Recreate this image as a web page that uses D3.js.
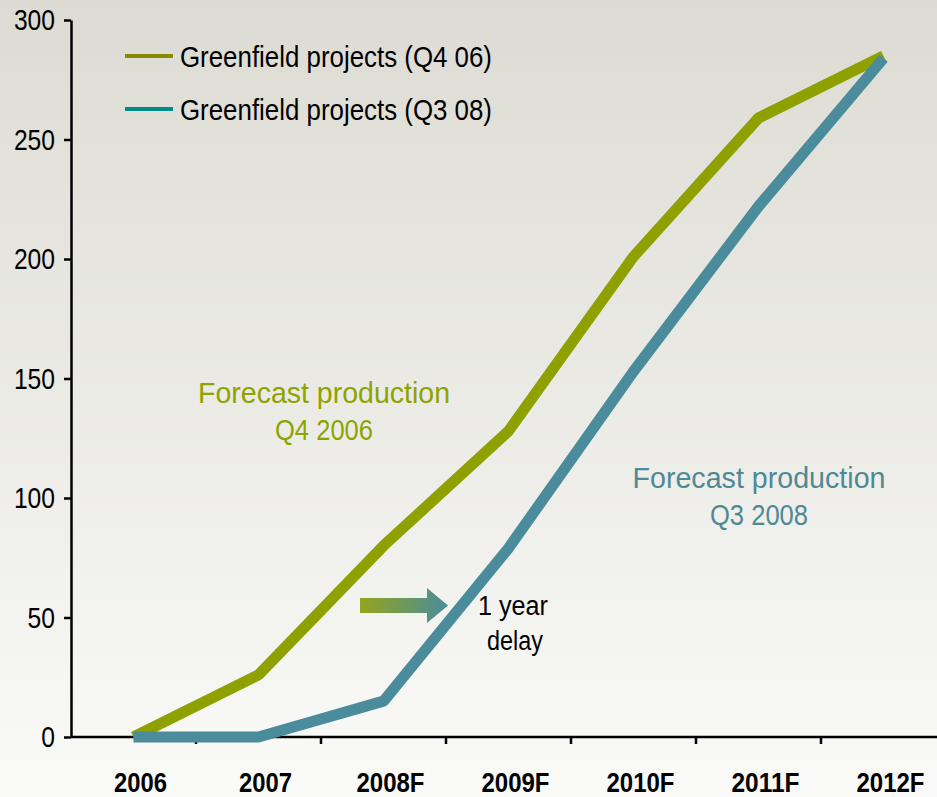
<!DOCTYPE html>
<html>
<head>
<meta charset="utf-8">
<script src="https://cdn.jsdelivr.net/npm/d3@7"></script>
<style>
  body { margin: 0; background: #fff; }
  text { font-family: "Liberation Sans", Arial, sans-serif; }
</style>
</head>
<body>
<div id="chart"></div>
<script>
const years = ["2006", "2007", "2008F", "2009F", "2010F", "2011F", "2012F"];
const q4_06 = [0, 26, 80, 128, 201, 259, 285];
const q3_08 = [0, 0, 15, 79, 153, 222, 284];
const yTicks = [0, 50, 100, 150, 200, 250, 300];
const legendNames = ["Greenfield projects (Q4 06)", "Greenfield projects (Q3 08)"];

const W = 937, H = 797;
const green = "#8fa100", blue = "#4a8c9b";

// the original uses a narrow typeface: squeeze text to its measured width
function narrow(sel, w) {
  sel.attr("textLength", w).attr("lengthAdjust", "spacingAndGlyphs");
}

const svg = d3.select("#chart").append("svg")
    .attr("width", W)
    .attr("height", H);

// background gradient
const defs = svg.append("defs");
const bg = defs.append("linearGradient").attr("id", "bg")
    .attr("x1", 0).attr("y1", 0).attr("x2", 0).attr("y2", 1);
bg.append("stop").attr("offset", "0%").attr("stop-color", "#dcdbd3");
bg.append("stop").attr("offset", "100%").attr("stop-color", "#fafaf8");
svg.append("rect").attr("width", W).attr("height", H).attr("fill", "url(#bg)");

const x = d3.scaleBand().domain(years).range([71, 946]).padding(0);
const y = d3.scaleLinear().domain([0, 300]).range([737, 20]);
const cx = d => x(d) + x.bandwidth() / 2;

// y axis
const yAxis = svg.append("g")
    .attr("transform", "translate(71,0)")
    .call(d3.axisLeft(y).tickValues(yTicks).tickSize(7).tickSizeOuter(0).tickPadding(9));
yAxis.select(".domain").attr("stroke", "#000").attr("stroke-width", 2.5);
yAxis.selectAll(".tick line").attr("stroke", "#000").attr("stroke-width", 2.5);
yAxis.selectAll(".tick text")
    .attr("fill", "#000")
    .style("font-family", "'Liberation Sans', Arial, sans-serif")
    .style("font-size", "30px")
    .each(function(d) { narrow(d3.select(this), String(d).length * 13.7); });

// x axis
svg.append("line")
    .attr("x1", 71).attr("x2", W)
    .attr("y1", y(0)).attr("y2", y(0))
    .attr("stroke", "#000").attr("stroke-width", 2.5);
svg.selectAll(".xtick").data(years.slice(1)).enter().append("line")
    .attr("class", "xtick")
    .attr("x1", d => x(d)).attr("x2", d => x(d))
    .attr("y1", y(0)).attr("y2", y(0) + 7)
    .attr("stroke", "#000").attr("stroke-width", 2.5);
svg.selectAll(".xlab").data(years).enter().append("text")
    .attr("class", "xlab")
    .attr("x", d => cx(d) + 7)
    .attr("y", 792)
    .attr("text-anchor", "middle")
    .style("font-size", "28px")
    .style("font-weight", "bold")
    .text(d => d)
    .each(function(d) { narrow(d3.select(this), d.length === 4 ? 53 : 68); });

// lines
const line = d3.line()
    .x((d, i) => cx(years[i]))
    .y(d => y(d));

svg.append("path")
    .datum(q4_06)
    .attr("fill", "none")
    .attr("stroke", green)
    .attr("stroke-width", 11)
    .attr("stroke-linejoin", "bevel")
    .attr("d", line);

svg.append("path")
    .datum(q3_08)
    .attr("fill", "none")
    .attr("stroke", blue)
    .attr("stroke-width", 11)
    .attr("stroke-linejoin", "bevel")
    .attr("d", line);

// legend
const legend = svg.append("g");
[["#8a8c00", 56, 67], ["#008b8b", 109, 120]].forEach((l, i) => {
  legend.append("line")
    .attr("x1", 125).attr("x2", 173)
    .attr("y1", l[1]).attr("y2", l[1])
    .attr("stroke", l[0]).attr("stroke-width", 4);
  legend.append("text")
    .attr("x", 180).attr("y", l[2])
    .style("font-size", "30px")
    .attr("fill", "#000")
    .text(legendNames[i])
    .call(narrow, 312);
});

// annotations
function note(xc, y1, lines, widths, color) {
  lines.forEach((t, i) => {
    svg.append("text")
      .attr("x", xc).attr("y", y1 + i * 37)
      .attr("text-anchor", "middle")
      .attr("fill", color)
      .style("font-size", "29px")
      .text(t)
      .call(narrow, widths[i]);
  });
}
note(324, 403, ["Forecast production", "Q4 2006"], [252, 98], "#8fa300");
note(759, 488, ["Forecast production", "Q3 2008"], [253, 98], "#4e8a94");

// delay arrow
const ag = defs.append("linearGradient").attr("id", "arr")
    .attr("x1", 0).attr("y1", 0).attr("x2", 1).attr("y2", 0);
ag.append("stop").attr("offset", "0%").attr("stop-color", "#94a51c");
ag.append("stop").attr("offset", "100%").attr("stop-color", blue);
const ay = y(55);
svg.append("path")
    .attr("d", `M360,${ay - 7.5}H427V${ay - 17.5}L448,${ay}L427,${ay + 17.5}V${ay + 7.5}H360Z`)
    .attr("fill", "url(#arr)");

svg.append("text")
    .attr("x", 513).attr("y", 615)
    .attr("text-anchor", "middle")
    .style("font-size", "27px")
    .text("1 year")
    .call(narrow, 70);
svg.append("text")
    .attr("x", 515).attr("y", 650)
    .attr("text-anchor", "middle")
    .style("font-size", "27px")
    .text("delay")
    .call(narrow, 56);
</script>
</body>
</html>
